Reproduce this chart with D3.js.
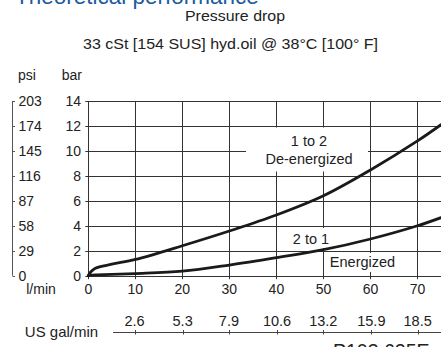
<!DOCTYPE html>
<html>
<head>
<meta charset="utf-8">
<script src="https://cdn.jsdelivr.net/npm/d3@7"></script>
<style>
  html, body { margin: 0; padding: 0; background: #fff; }
  svg { display: block; font-family: "Liberation Sans", Arial, Helvetica, sans-serif; }
</style>
</head>
<body>
<svg id="chart" width="441" height="347"></svg>
<script>
// ---- data ----
const flowLmin    = [0, 0.5, 1.5, 5, 10, 20, 30, 40, 50, 60, 70, 75];
const deEnergized = [0, 0.3, 0.6, 0.92, 1.3, 2.4, 3.58, 4.86, 6.4, 8.47, 10.8, 12.1];
const energized   = [0, 0.04, 0.07, 0.1, 0.17, 0.36, 0.85, 1.44, 2.08, 2.94, 4.0, 4.65];
const barTicks    = [0, 2, 4, 6, 8, 10, 12, 14];
const psiLabels   = ["0", "29", "58", "87", "116", "145", "174", "203"];
const lminTicks   = [0, 10, 20, 30, 40, 50, 60, 70];
const galTicks    = [2.6, 5.3, 7.9, 10.6, 13.2, 15.9, 18.5];
const galLabels   = ["2.6", "5.3", "7.9", "10.6", "13.2", "15.9", "18.5"];
const titleText   = "Theoretical performance";
const chartTitle  = "Pressure drop";
const subTitle    = "33 cSt [154 SUS] hyd.oil @ 38°C [100° F]";
const lineLabels  = [
  { lines: ["1 to 2", "De-energized"] },
  { lines: ["2 to 1"] },
  { lines: ["Energized"] }
];

const LPM_PER_GAL = 3.78541;
const svg = d3.select("#chart");
const ink = "#222";
const gridC = "#333";

const x = d3.scaleLinear().domain([0, 75]).range([88.3, 441]);
const xg = d3.scaleLinear().domain([0, 75 / LPM_PER_GAL]).range([88.3, 441]);
const y = d3.scaleLinear().domain([0, 14]).range([275.7, 101]);

// Title (cut off at the top)
svg.append("text").attr("x", 15).attr("y", 3.5)
  .attr("font-size", 22.5).attr("fill", "#1d5b9c").text(titleText);

svg.append("text").attr("x", 235).attr("y", 21)
  .attr("text-anchor", "middle").attr("font-size", 15)
  .attr("textLength", 100).attr("lengthAdjust", "spacingAndGlyphs")
  .attr("fill", ink).text(chartTitle);
svg.append("text").attr("x", 230.5).attr("y", 49)
  .attr("text-anchor", "middle").attr("font-size", 14.5)
  .attr("textLength", 295).attr("lengthAdjust", "spacingAndGlyphs")
  .attr("fill", ink).text(subTitle);

// Grid: horizontal (bar) lines with short left ticks
const gridG = svg.append("g");
gridG.selectAll("line.h").data(barTicks).join("line")
  .attr("x1", x(0) - 3).attr("x2", 441)
  .attr("y1", d => Math.round(y(d)) + 0.5).attr("y2", d => Math.round(y(d)) + 0.5)
  .attr("stroke", gridC).attr("stroke-width", 1);
// vertical lines with short bottom ticks
gridG.selectAll("line.v").data(lminTicks).join("line")
  .attr("x1", d => Math.round(x(d)) + 0.5).attr("x2", d => Math.round(x(d)) + 0.5)
  .attr("y1", y(14)).attr("y2", y(0) + 3.5)
  .attr("stroke", gridC).attr("stroke-width", 1);

// White label backgrounds (occlude grid)
const boxes = [
  { x0: 246, x1: 368, y0: 127.5, y1: 171.5 },
  { x0: 289, x1: 334, y0: 228, y1: 248 },
  { x0: 325, x1: 401, y0: 253, y1: 272 }
];
svg.selectAll("rect.bg").data(boxes).join("rect")
  .attr("x", d => d.x0).attr("y", d => d.y0)
  .attr("width", d => d.x1 - d.x0).attr("height", d => d.y1 - d.y0)
  .attr("fill", "#fff");

// Bar tick labels
svg.append("g").selectAll("text").data(barTicks).join("text")
  .attr("x", 81).attr("y", d => y(d) + 5)
  .attr("text-anchor", "end").attr("font-size", 14).attr("fill", ink)
  .text(d => d);
svg.append("text").attr("x", 82).attr("y", 80).attr("text-anchor", "end")
  .attr("font-size", 14).attr("fill", ink).text("bar");

// psi axis
const psiG = svg.append("g");
psiG.append("line").attr("x1", 12.5).attr("x2", 12.5).attr("y1", y(14)).attr("y2", y(0))
  .attr("stroke", "#555").attr("stroke-width", 1);
psiG.selectAll("line.t").data(barTicks).join("line")
  .attr("x1", 12.5).attr("x2", 15)
  .attr("y1", d => Math.round(y(d)) + 0.5).attr("y2", d => Math.round(y(d)) + 0.5)
  .attr("stroke", "#555");
psiG.selectAll("text").data(barTicks).join("text")
  .attr("x", 18.5).attr("y", d => y(d) + 5)
  .attr("font-size", 14).attr("fill", ink)
  .text((d, i) => psiLabels[i]);
svg.append("text").attr("x", 18).attr("y", 80)
  .attr("font-size", 14).attr("fill", ink).text("psi");

// l/min labels
svg.append("g").selectAll("text").data(lminTicks).join("text")
  .attr("x", d => x(d)).attr("y", 294)
  .attr("text-anchor", "middle").attr("font-size", 14).attr("fill", ink)
  .text(d => d);
svg.append("text").attr("x", 41).attr("y", 294).attr("text-anchor", "middle")
  .attr("font-size", 14).attr("fill", ink).text("l/min");

// US gal/min axis
const galG = svg.append("g");
galG.append("line").attr("x1", 113).attr("x2", 441).attr("y1", 332.5).attr("y2", 332.5)
  .attr("stroke", "#444").attr("stroke-width", 1);
galG.selectAll("line.t").data(galTicks).join("line")
  .attr("x1", d => Math.round(xg(d)) + 0.5).attr("x2", d => Math.round(xg(d)) + 0.5)
  .attr("y1", 330).attr("y2", 334.5).attr("stroke", "#444");
galG.selectAll("text").data(galTicks).join("text")
  .attr("x", d => xg(d)).attr("y", 326)
  .attr("text-anchor", "middle").attr("font-size", 14.5).attr("fill", ink)
  .text((d, i) => galLabels[i]);
svg.append("text").attr("x", 61.5).attr("y", 337).attr("text-anchor", "middle")
  .attr("font-size", 15).attr("fill", ink).text("US gal/min");

svg.append("text").attr("x", 333).attr("y", 357.5)
  .attr("font-size", 19.5).attr("fill", ink).text("P103 625E");

// Curves
const line = d3.line().x(d => x(d[0])).y(d => y(d[1])).curve(d3.curveCatmullRom.alpha(0.5));
const series = [deEnergized, energized];
svg.append("g").selectAll("path").data(series).join("path")
  .attr("d", s => line(flowLmin.map((f, i) => [f, s[i]])))
  .attr("fill", "none").attr("stroke", "#1a1a1a").attr("stroke-width", 2.8)
  .attr("stroke-linecap", "round").attr("stroke-linejoin", "round");

// Curve labels
const labelPos = [
  { cx: 309, ys: [146, 164] },
  { cx: 311, ys: [244] },
  { cx: 362.5, ys: [266.5] }
];
lineLabels.forEach((lab, k) => {
  lab.lines.forEach((t, j) => {
    svg.append("text").attr("x", labelPos[k].cx).attr("y", labelPos[k].ys[j])
      .attr("text-anchor", "middle").attr("font-size", 14.5).attr("fill", ink).text(t);
  });
});
</script>
</body>
</html>
